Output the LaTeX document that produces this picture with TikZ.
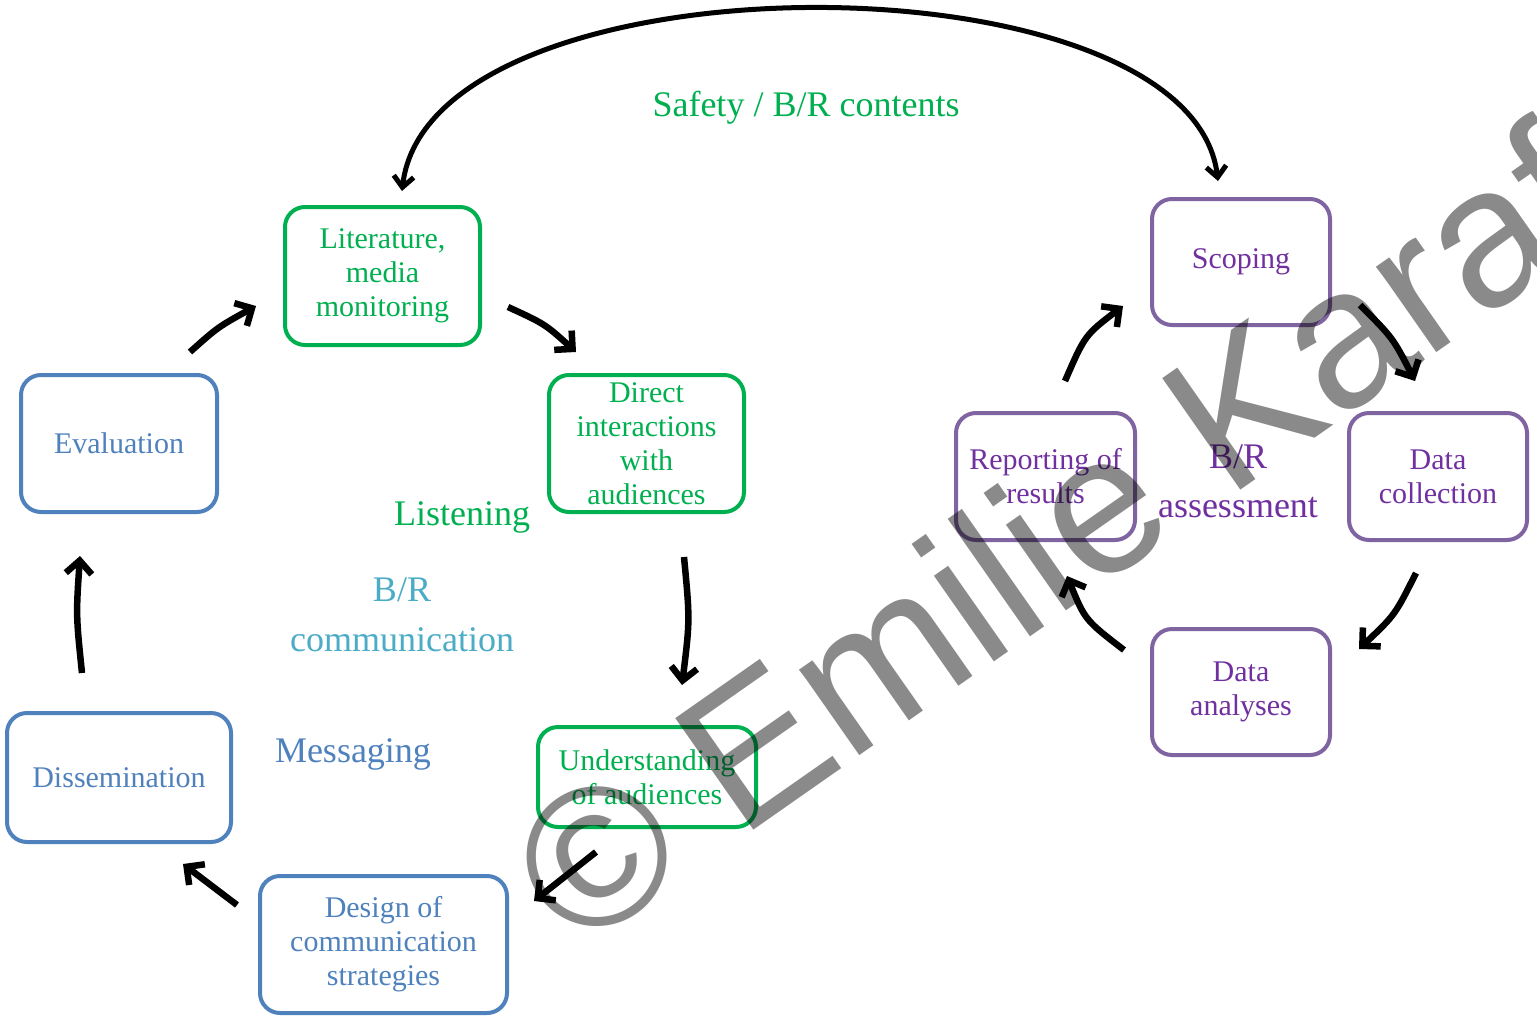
\documentclass[tikz,border=0pt]{standalone}
\usepackage{fontspec}
\setmainfont{Liberation Serif}
\newfontfamily\wmfont{Liberation Sans}
\usetikzlibrary{arrows.meta}
\definecolor{cgreen}{HTML}{00B050}
\definecolor{cblue}{HTML}{4F81BD}
\definecolor{cpurple}{HTML}{8064A2}
\definecolor{cptext}{HTML}{7030A0}
\definecolor{cteal}{HTML}{4BACC6}
\tikzset{
  box/.style={draw, rounded corners=20pt, line width=4pt, align=center, inner sep=0pt,
    font=\fontsize{30}{34}\selectfont},
  greenbox/.style={box, draw=cgreen, text=cgreen},
  bluebox/.style={box, draw=cblue, text=cblue},
  purplebox/.style={box, draw=cpurple, text=cptext},
  biglabel/.style={font=\fontsize{36}{49}\selectfont, anchor=base, inner sep=0pt, align=center},
  flow/.style={line width=6.5pt, -{Straight Barb[length=13pt,width=26pt]}},
  arcflow/.style={line width=5pt, {Straight Barb[length=11pt,width=20pt]}-{Straight Barb[length=11pt,width=20pt]}},
}
\begin{document}
\begin{tikzpicture}[x=1pt,y=-1pt]
\useasboundingbox[fill=white] (0,0) rectangle (1537,1023);

% green boxes
\node[greenbox, minimum width=195pt, minimum height=138pt] (lit) at (382.5,276) {Literature,\\media\\monitoring};
\node[greenbox, minimum width=195pt, minimum height=137pt] (dir) at (646.5,443.5) {Direct\\interactions\\with\\audiences};
\node[greenbox, minimum width=218pt, minimum height=100pt] (und) at (647,777) {Understanding\\of audiences};
% blue boxes
\node[bluebox, minimum width=196pt, minimum height=137pt] (eval) at (119,443.5) {Evaluation};
\node[bluebox, minimum width=224pt, minimum height=129pt] (diss) at (119,777.5) {Dissemination};
\node[bluebox, minimum width=247pt, minimum height=137pt] (des) at (383.5,944.5) {Design of\\communication\\strategies};
% purple boxes
\node[purplebox, minimum width=178pt, minimum height=126pt] (scop) at (1241,262) {Scoping};
\node[purplebox, minimum width=179pt, minimum height=127pt] (rep) at (1045.5,476.5) {Reporting of\\results};
\node[purplebox, minimum width=178pt, minimum height=127pt] (dc) at (1438,476.5) {Data\\collection};
\node[purplebox, minimum width=178pt, minimum height=126pt] (da) at (1241,692) {Data\\analyses};

% labels
\node[biglabel, text=cgreen] (safety) at (806,116) {Safety / B/R contents};
\node[biglabel, text=cgreen] (listen) at (462,525) {Listening};
\node[biglabel, text=cteal] (brc1) at (402,601) {B/R};
\node[biglabel, text=cteal] (brc2) at (402,651) {communication};
\node[biglabel, text=cblue] (msg) at (353,762) {Messaging};
\node[biglabel, text=cptext] (bra1) at (1238,468) {B/R};
\node[biglabel, text=cptext] (bra2) at (1238,517) {assessment};

% arrow end points
\coordinate (arcL) at (402,191);
\coordinate (arcR) at (1218,181);
\coordinate (a1s) at (190,352); \coordinate (a1e) at (256,306);
\coordinate (a2s) at (508,307); \coordinate (a2e) at (576,352);
\coordinate (a3s) at (684,557); \coordinate (a3e) at (682,685);
\coordinate (a4s) at (596,852); \coordinate (a4e) at (534,901);
\coordinate (a5s) at (237,905); \coordinate (a5e) at (183,864);
\coordinate (a6s) at (82,673);  \coordinate (a6e) at (80,556);
\coordinate (a7s) at (1065,381); \coordinate (a7e) at (1123,306);
\coordinate (a8s) at (1360,305); \coordinate (a8e) at (1415,381);
\coordinate (a9s) at (1416,573); \coordinate (a9e) at (1359,649);
\coordinate (a10s) at (1124,650); \coordinate (a10e) at (1067,576);

\draw[arcflow] (arcL) .. controls (430,-50) and (1190,-50) .. (arcR);
\draw[flow] (a1s) .. controls (218,327) .. (a1e);
\draw[flow] (a2s) .. controls (545,324) .. (a2e);
\draw[flow] (a3s) .. controls (690,620) .. (a3e);
\draw[flow] (a4s) -- (a4e);
\draw[flow] (a5s) -- (a5e);
\draw[flow] (a6s) .. controls (76,615) .. (a6e);
\draw[flow] (a7s) .. controls (1085,335) .. (a7e);
\draw[flow] (a8s) .. controls (1393,338) .. (a8e);
\draw[flow] (a9s) .. controls (1395,615) .. (a9e);
\draw[flow] (a10s) .. controls (1085,620) .. (a10e);

% watermark
\begin{scope}
\clip (0,0) rectangle (1537,1023);
\node[rotate=35, anchor=base west, inner sep=0pt, text=black, text opacity=0.46,
  font=\fontsize{198}{198}\wmfont] (wm) at (576,955) {© Emilie Karaf};
\end{scope}
\end{tikzpicture}
\end{document}
